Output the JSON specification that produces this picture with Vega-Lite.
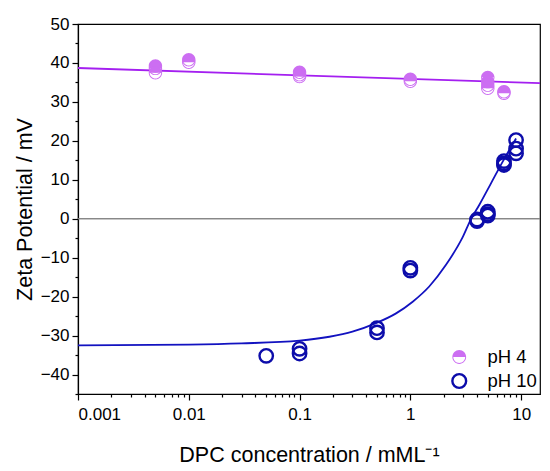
{
  "$schema": "https://vega.github.io/schema/vega-lite/v6.json",
  "autosize": "none",
  "width": 462,
  "height": 370,
  "padding": {"left": 78, "top": 24, "right": 10, "bottom": 77},
  "background": "white",
  "config": {
    "font": "Liberation Sans",
    "view": {"stroke": "#000", "strokeWidth": 1.2},
    "axis": {
      "grid": false,
      "domainColor": "#000",
      "domainWidth": 1.2,
      "tickColor": "#000",
      "tickWidth": 1.2,
      "labelColor": "#000",
      "titleColor": "#000",
      "labelFont": "Liberation Sans",
      "titleFont": "Liberation Sans",
      "labelFontSize": 17,
      "titleFontSize": 21.5,
      "titleFontWeight": "normal"
    },
    "legend": {"labelFont": "Liberation Sans", "labelFontSize": 18.5, "labelColor": "#000"}
  },
  "datasets": {
    "points": [
      {"conc": 0.005, "zeta": 39.2, "series": "pH 4"},
      {"conc": 0.005, "zeta": 38.6, "series": "pH 4"},
      {"conc": 0.005, "zeta": 37.5, "series": "pH 4"},
      {"conc": 0.01, "zeta": 40.8, "series": "pH 4"},
      {"conc": 0.01, "zeta": 40.2, "series": "pH 4"},
      {"conc": 0.1, "zeta": 37.6, "series": "pH 4"},
      {"conc": 0.1, "zeta": 37.0, "series": "pH 4"},
      {"conc": 0.1, "zeta": 36.5, "series": "pH 4"},
      {"conc": 1, "zeta": 35.8, "series": "pH 4"},
      {"conc": 1, "zeta": 35.3, "series": "pH 4"},
      {"conc": 5, "zeta": 36.3, "series": "pH 4"},
      {"conc": 5, "zeta": 35.2, "series": "pH 4"},
      {"conc": 5, "zeta": 34.3, "series": "pH 4"},
      {"conc": 5, "zeta": 33.5, "series": "pH 4"},
      {"conc": 7, "zeta": 32.6, "series": "pH 4"},
      {"conc": 7, "zeta": 32.2, "series": "pH 4"},
      {"conc": 0.05, "zeta": -35.2, "series": "pH 10"},
      {"conc": 0.1, "zeta": -33.4, "series": "pH 10"},
      {"conc": 0.1, "zeta": -34.6, "series": "pH 10"},
      {"conc": 0.5, "zeta": -28.1, "series": "pH 10"},
      {"conc": 0.5, "zeta": -29.2, "series": "pH 10"},
      {"conc": 1, "zeta": -12.6, "series": "pH 10"},
      {"conc": 1, "zeta": -13.3, "series": "pH 10"},
      {"conc": 4, "zeta": -0.6, "series": "pH 10"},
      {"conc": 4, "zeta": -0.2, "series": "pH 10"},
      {"conc": 5, "zeta": 1.8, "series": "pH 10"},
      {"conc": 5, "zeta": 1.2, "series": "pH 10"},
      {"conc": 5, "zeta": 0.8, "series": "pH 10"},
      {"conc": 7, "zeta": 14.8, "series": "pH 10"},
      {"conc": 7, "zeta": 14.2, "series": "pH 10"},
      {"conc": 7, "zeta": 13.8, "series": "pH 10"},
      {"conc": 9, "zeta": 20.2, "series": "pH 10"},
      {"conc": 9, "zeta": 18.0, "series": "pH 10"},
      {"conc": 9, "zeta": 16.8, "series": "pH 10"}
    ],
    "fit4": [
      {"conc": 0.001, "zeta": 38.7},
      {"conc": 14.8, "zeta": 34.8}
    ],
    "fit10": [
      {"conc": 0.001, "zeta": -32.5},
      {"conc": 0.01, "zeta": -32.3},
      {"conc": 0.03, "zeta": -32.0},
      {"conc": 0.1, "zeta": -31.3},
      {"conc": 0.186, "zeta": -30.3},
      {"conc": 0.3, "zeta": -29.0},
      {"conc": 0.49, "zeta": -26.8},
      {"conc": 0.743, "zeta": -24.3},
      {"conc": 1.05, "zeta": -21.3},
      {"conc": 1.48, "zeta": -17.4},
      {"conc": 2.09, "zeta": -11.9},
      {"conc": 2.96, "zeta": -4.8},
      {"conc": 3.5, "zeta": -0.3},
      {"conc": 4.2, "zeta": 3.6},
      {"conc": 5.3, "zeta": 8.9},
      {"conc": 6.8, "zeta": 14.6},
      {"conc": 9.0, "zeta": 20.6}
    ]
  },
  "resolve": {"axis": {"x": "independent", "y": "independent"}},
  "layer": [
    {
      "data": {"name": "fit4"},
      "mark": {"type": "rule", "color": "#808080", "strokeWidth": 1.2},
      "encoding": {
        "y": {"datum": 0, "type": "quantitative", "scale": {"domain": [-45, 50], "nice": false, "zero": false}, "axis": null}
      }
    },
    {
      "data": {"name": "fit4"},
      "mark": {"type": "line", "color": "#a41ff0", "strokeWidth": 1.8},
      "encoding": {
        "x": {"field": "conc", "type": "quantitative",
              "scale": {"type": "log", "domain": [0.001, 14.8], "nice": false},
              "axis": {"orient": "bottom", "values": [0.002,0.003,0.004,0.005,0.006,0.007,0.008,0.009,0.02,0.03,0.04,0.05,0.06,0.07,0.08,0.09,0.2,0.3,0.4,0.5,0.6,0.7,0.8,0.9,2,3,4,5,6,7,8,9],
                       "labels": false, "domain": false, "tickSize": 3, "title": null}},
        "y": {"field": "zeta", "type": "quantitative",
              "scale": {"domain": [-45, 50], "nice": false, "zero": false},
              "axis": {"orient": "left", "values": [-45,-35,-25,-15,-5,5,15,25,35,45],
                       "labels": false, "domain": false, "tickSize": 3, "title": null}}
      }
    },
    {
      "data": {"name": "fit10"},
      "mark": {"type": "line", "color": "#1212c0", "strokeWidth": 1.8, "interpolate": "monotone"},
      "encoding": {
        "x": {"field": "conc", "type": "quantitative", "scale": {"type": "log", "domain": [0.001, 14.8], "nice": false}, "axis": null},
        "y": {"field": "zeta", "type": "quantitative", "scale": {"domain": [-45, 50], "nice": false, "zero": false}, "axis": null}
      }
    },
    {
      "data": {"name": "points"},
      "mark": {"type": "point", "size": 180, "strokeWidth": 2.4, "opacity": 1},
      "encoding": {
        "x": {"field": "conc", "type": "quantitative",
              "scale": {"type": "log", "domain": [0.001, 14.8], "nice": false},
              "axis": {"orient": "bottom", "values": [0.001, 0.01, 0.1, 1, 10], "format": "~g",
                       "tickSize": 6, "labelPadding": 6, "titlePadding": 22,
                       "title": "DPC concentration / mML⁻¹"}},
        "y": {"field": "zeta", "type": "quantitative",
              "scale": {"domain": [-45, 50], "nice": false, "zero": false},
              "axis": {"orient": "left", "values": [-40,-30,-20,-10,0,10,20,30,40,50],
                       "tickSize": 6, "labelPadding": 3, "titlePadding": 4,
                       "title": "Zeta Potential / mV"}},
        "shape": {"field": "series", "type": "nominal",
                  "scale": {"domain": ["pH 4", "pH 10"],
                            "range": ["M-1,0A1,1,0,0,1,1,0ZM1,0A1,1,0,0,1,-1,0L-0.86,0A0.86,0.86,0,0,0,0.86,0Z", "circle"]},
                  "legend": {"title": null, "orient": "bottom-right", "offset": 1, "padding": 2,
                             "symbolSize": 190, "symbolStrokeWidth": 2.4, "rowPadding": 5, "clipHeight": 18, "labelOffset": 19}},
        "fill": {"field": "series", "type": "nominal",
                 "scale": {"domain": ["pH 4", "pH 10"], "range": ["#cc6ef2", "transparent"]}},
        "stroke": {"field": "series", "type": "nominal",
                   "scale": {"domain": ["pH 4", "pH 10"], "range": ["transparent", "#0c0caa"]}}
      }
    }
  ]
}
